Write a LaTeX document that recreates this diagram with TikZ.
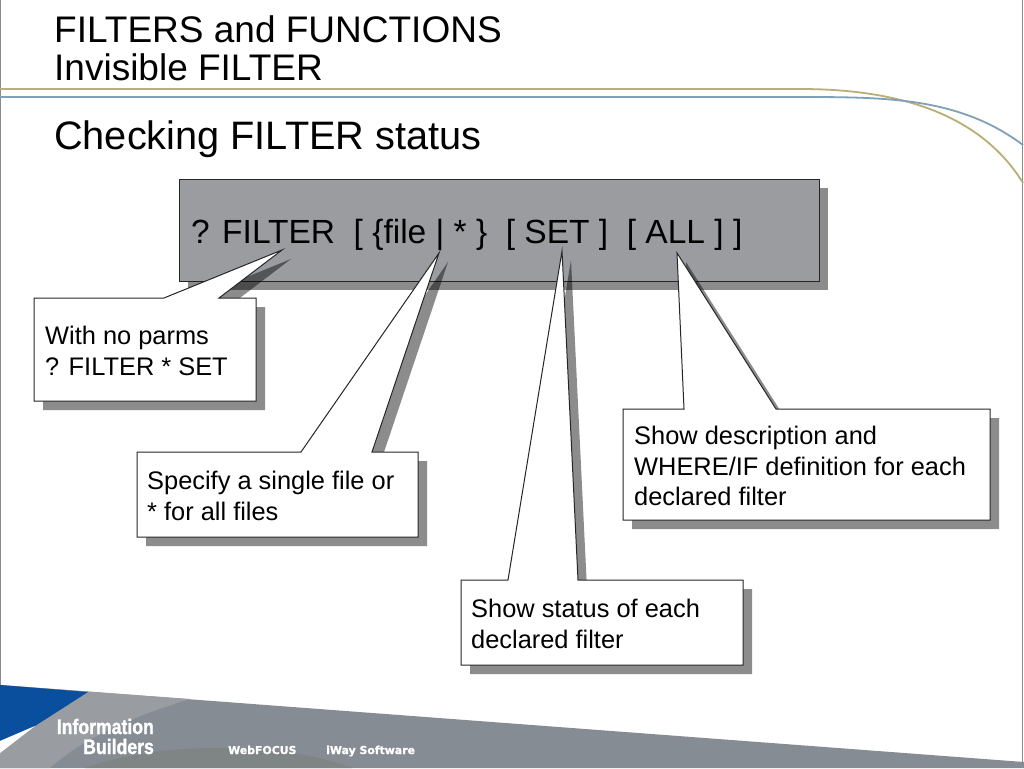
\documentclass[tikz,border=0pt]{standalone}
\usepackage{fontspec}
\setmainfont{Liberation Sans}
\newfontfamily\logofont[FakeBold=1.2]{DejaVu Sans Bold}
\newfontfamily\ibfont[FakeBold=1.5]{Liberation Sans Bold}
\definecolor{panelgray}{HTML}{9A9CA0}
\definecolor{footmain}{HTML}{858C93}
\definecolor{footlight}{HTML}{999CA1}
\definecolor{footdark}{HTML}{7E8584}
\definecolor{ibblue}{HTML}{0A4F9E}
\definecolor{linegold}{HTML}{B9AE74}
\definecolor{lineblue}{HTML}{7FA1B8}
\definecolor{edgegray}{HTML}{8A8A8A}
\tikzset{
  x=1pt,y=-1pt,
  softshadow/.style={fill=black,fill opacity=.45,draw=none},
  callout/.style={fill=white,draw=black!85,line width=1pt,line join=miter},
  titletext/.style={anchor=base west,inner sep=0pt,font=\fontsize{37}{38}\selectfont},
  bodytext/.style={anchor=west,inner sep=0pt,align=left,font=\fontsize{25.4}{30.6}\selectfont},
  logotext/.style={anchor=base east,inner sep=0pt,text=white,font=\ibfont\fontsize{21}{21}\selectfont,xscale=.84},
  prodtext/.style={anchor=base west,inner sep=0pt,text=white,font=\logofont\fontsize{10.9}{12}\selectfont},
}
\begin{document}
\begin{tikzpicture}
\useasboundingbox (0,0) rectangle (1024,768);
\fill[white] (0,0) rectangle (1024,768);
% page edges
\draw[edgegray,line width=1pt] (.5,0) -- (.5,768);
\draw[edgegray,line width=1pt] (1022.5,0) -- (1022.5,768);
% header curves
\draw[linegold,line width=1.8pt] (0,89) -- (800,89) .. controls (880,89) and (975,105) .. (1023,183);
\draw[lineblue,line width=1.8pt] (0,97) -- (800,97) .. controls (890,97) and (960,98) .. (1023,145);
% footer
\fill[footmain] (0,685) -- (1024,762) -- (1024,768) -- (0,768) -- cycle;
\fill[footlight] (0,685) -- (190,699) .. controls (120,720) and (75,745) .. (50,768) -- (0,768) -- cycle;
\fill[footdark] (85,768) .. controls (130,752) and (180,748) .. (215,748) .. controls (270,748) and (320,755) .. (352,768) -- cycle;
\fill[ibblue] (0,685) -- (88,692) -- (35,726) -- (0,741) -- cycle;
\fill[white] (0,741) -- (35,726) -- (0,753) -- cycle;
\node[logotext] (logoa) at (154,734) {Information};
\node[logotext] (logob) at (154,754) {Builders};
\node[prodtext] (prodwf) at (228,754) {WebFOCUS};
\node[prodtext] (prodiw) at (326,754) {iWay Software};
% titles
\node[titletext] (titlea) at (54,42) {FILTERS and FUNCTIONS};
\node[titletext] (titleb) at (54,80) {Invisible FILTER};
\node[titletext,font=\fontsize{39.7}{40}\selectfont] (titlec) at (54,149) {Checking FILTER status};
% syntax panel
\fill[softshadow] (188,188) rectangle (828,290);
\draw[fill=panelgray,draw=black!85,line width=1pt] (179,179) rectangle (819,281);
\node[anchor=base west,inner sep=0pt,font=\fontsize{33.5}{36}\selectfont] (syntax) at (191,243) {? FILTER\ \ [ \{file | * \}\ \ [ SET ]\ \ [ ALL ] ]};
% callout shadows
\begin{scope}[shift={(9,9)}]
\fill[softshadow] (34,298) -- (164,298) -- (282,250) -- (219,298) -- (256,298) -- (256,401) -- (34,401) -- cycle;
\fill[softshadow] (137,452) -- (301,452) -- (439,253) -- (372,452) -- (418,452) -- (418,537) -- (137,537) -- cycle;
\fill[softshadow] (461,580) -- (508,580) -- (562,251) -- (578,580) -- (743,580) -- (743,665) -- (461,665) -- cycle;
\fill[softshadow] (623,409) -- (684,409) -- (677,253) -- (776,409) -- (990,409) -- (990,520) -- (623,520) -- cycle;
\end{scope}
% callouts
\draw[callout] (34,298) -- (164,298) -- (282,250) -- (219,298) -- (256,298) -- (256,401) -- (34,401) -- cycle;
\draw[callout] (137,452) -- (301,452) -- (439,253) -- (372,452) -- (418,452) -- (418,537) -- (137,537) -- cycle;
\draw[callout] (461,580) -- (508,580) -- (562,251) -- (578,580) -- (743,580) -- (743,665) -- (461,665) -- cycle;
\draw[callout] (623,409) -- (684,409) -- (677,253) -- (776,409) -- (990,409) -- (990,520) -- (623,520) -- cycle;
\node[bodytext] (noteparms) at (45,351) {With no parms\\? FILTER * SET};
\node[bodytext] (notefile) at (147,496) {Specify a single file or\\* for all files};
\node[bodytext] (noteset) at (471,624) {Show status of each\\declared filter};
\node[bodytext] (noteall) at (634,466) {Show description and\\WHERE/IF definition for each\\declared filter};
\end{tikzpicture}
\end{document}
